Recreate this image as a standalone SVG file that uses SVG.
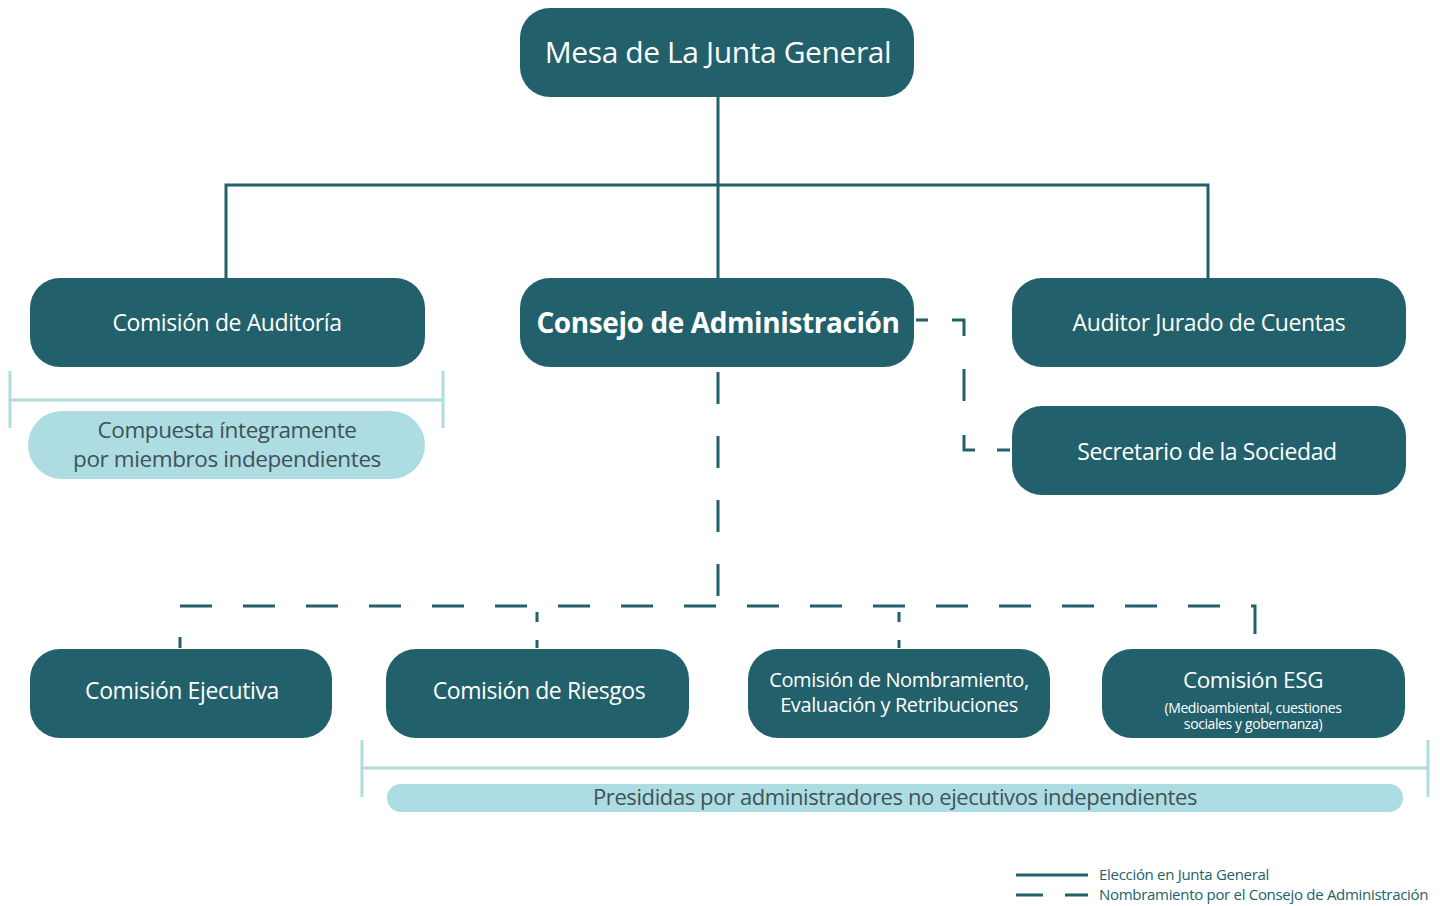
<svg xmlns="http://www.w3.org/2000/svg" width="1440" height="906" viewBox="0 0 1440 906">
<style>
.box{fill:#22606b}
.pill{fill:#addce2}
.wt{fill:#ffffff;font-family:"Open Sans","Liberation Sans",sans-serif;text-anchor:middle;letter-spacing:-0.4px}
.b{font-weight:bold}
.gt{fill:#3d5358;font-family:"Open Sans","Liberation Sans",sans-serif;text-anchor:middle;letter-spacing:-0.4px}
.solid{stroke:#22606b;stroke-width:3;fill:none}
.dash{stroke:#22606b;stroke-width:3;fill:none}
.br{stroke:#addce2;stroke-width:3;fill:none}
.lg{fill:#22606b;font-family:"Open Sans","Liberation Sans",sans-serif;font-size:15px;letter-spacing:-0.3px}
</style>
<rect width="1440" height="906" fill="#ffffff"/>
<g id="connectors">
<path class="solid" d="M718 97V278M226 278V185H1208V278"/>
<path class="dash" d="M718 372V606" stroke-dasharray="32 32"/>
<path class="dash" d="M180 648V606H1255V648" stroke-dasharray="32 31" stroke-dashoffset="21"/>
<path class="dash" d="M537 606V648" stroke-dasharray="0 6 10 18 20"/>
<path class="dash" d="M899 606V648" stroke-dasharray="0 6 10 18 20"/>
<path class="dash" d="M916 320H964V450H1010" stroke-dasharray="12 24 28 33 32 34 26 22 13"/>
</g>
<g id="mesa"><rect class="box" x="520" y="8" width="394" height="89" rx="30"/><text class="wt" x="718" y="63" font-size="30">Mesa de La Junta General</text></g>
<g id="auditoria"><rect class="box" x="30" y="278" width="395" height="89" rx="30"/><text class="wt" x="227" y="331" font-size="23">Comisión de Auditoría</text></g>
<g id="consejo"><rect class="box" x="520" y="278" width="394" height="89" rx="30"/><text class="wt b" x="718" y="333" font-size="28">Consejo de Administración</text></g>
<g id="auditor"><rect class="box" x="1012" y="278" width="394" height="89" rx="30"/><text class="wt" x="1209" y="331" font-size="23">Auditor Jurado de Cuentas</text></g>
<g id="secretario"><rect class="box" x="1012" y="406" width="394" height="89" rx="30"/><text class="wt" x="1207" y="460" font-size="23">Secretario de la Sociedad</text></g>
<g id="nota-auditoria">
<path class="br" d="M10 371V428M10 400H443M443 371V428"/>
<rect class="pill" x="28" y="411" width="397" height="68" rx="34"/>
<text class="gt" x="227" y="438" font-size="22.5">Compuesta íntegramente<tspan x="227" y="467">por miembros independientes</tspan></text>
</g>
<g id="ejecutiva"><rect class="box" x="30" y="649" width="302" height="89" rx="30"/><text class="wt" x="182" y="699" font-size="23">Comisión Ejecutiva</text></g>
<g id="riesgos"><rect class="box" x="386" y="649" width="303" height="89" rx="30"/><text class="wt" x="539" y="699" font-size="23">Comisión de Riesgos</text></g>
<g id="nombramiento"><rect class="box" x="748" y="649" width="302" height="89" rx="30"/><text class="wt" x="899" y="687" font-size="20">Comisión de Nombramiento,<tspan x="899" y="712">Evaluación y Retribuciones</tspan></text></g>
<g id="esg"><rect class="box" x="1102" y="649" width="303" height="89" rx="30"/><text class="wt" x="1253" y="688" font-size="22.5">Comisión ESG</text><text class="wt" x="1253" y="713" font-size="14">(Medioambiental, cuestiones<tspan x="1253" y="729">sociales y gobernanza)</tspan></text></g>
<g id="nota-comisiones">
<path class="br" d="M362 740V797M362 768H1428M1428 740V797"/>
<rect class="pill" x="387" y="784" width="1016" height="28" rx="14"/>
<text class="gt" x="895" y="805" font-size="22">Presididas por administradores no ejecutivos independientes</text>
</g>
<g id="leyenda">
<path class="solid" d="M1016 875H1088"/>
<path class="solid" d="M1016 895H1043M1065 895H1088"/>
<text class="lg" x="1099" y="880">Elección en Junta General</text>
<text class="lg" x="1099" y="900">Nombramiento por el Consejo de Administración</text>
</g>
</svg>
